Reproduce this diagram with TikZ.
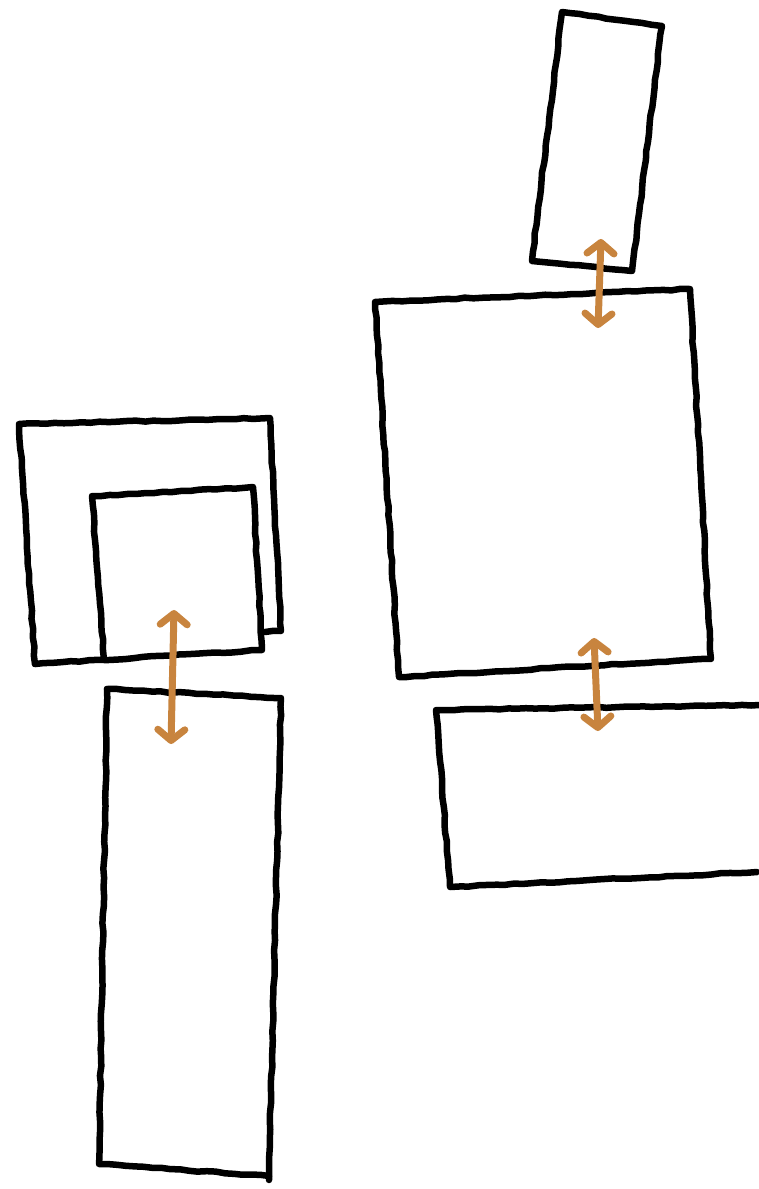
\documentclass[tikz,border=0pt]{standalone}
\usetikzlibrary{arrows.meta,decorations.pathmorphing}
\definecolor{ochre}{HTML}{C8843E}

\tikzset{
  sketch/.style={draw=black, line width=6.5pt, line join=round, line cap=round,
    decorate, decoration={random steps, segment length=9pt, amplitude=0.7pt}},
  link/.style={draw=ochre, line width=7pt, line cap=round,
    {Straight Barb[length=11pt, width=27pt, round]}-{Straight Barb[length=11pt, width=27pt, round]}}
}

\begin{document}
\begin{tikzpicture}[x=1pt, y=-1pt]
  \useasboundingbox (0,0) rectangle (759,1189);

  % top tilted box
  \draw[sketch] (562,12) -- (662,26) -- (632,271) -- (532,261) -- cycle;
  % big right box
  \draw[sketch] (375,302) -- (690,289) -- (711,659) -- (399,677) -- cycle;
  % lower right box, runs off the edge
  \draw[sketch] (757,872) -- (450,887) -- (436,710) -- (759,705);
  % left outer box and inner box
  \draw[sketch] (35,664) -- (19,424) -- (270,418) -- (281,631) -- (265,632);
  \draw[sketch] (35,664) -- (262,650) -- (253,487) -- (92,496) -- (104,660);
  % long left box
  \draw[sketch] (107,689) -- (281,698) -- (269,1180);
  \draw[sketch] (107,689) -- (99,1164) -- (269,1176);

  % arrows between the boxes
  \coordinate (upA) at (174,610);
  \coordinate (upB) at (171,744);
  \coordinate (midA) at (594,638);
  \coordinate (midB) at (598,731);
  \coordinate (topA) at (601,239);
  \coordinate (topB) at (598,328);
  \draw[link] (upA) -- (upB);
  \draw[link] (midA) -- (midB);
  \draw[link] (topA) -- (topB);
\end{tikzpicture}
\end{document}
